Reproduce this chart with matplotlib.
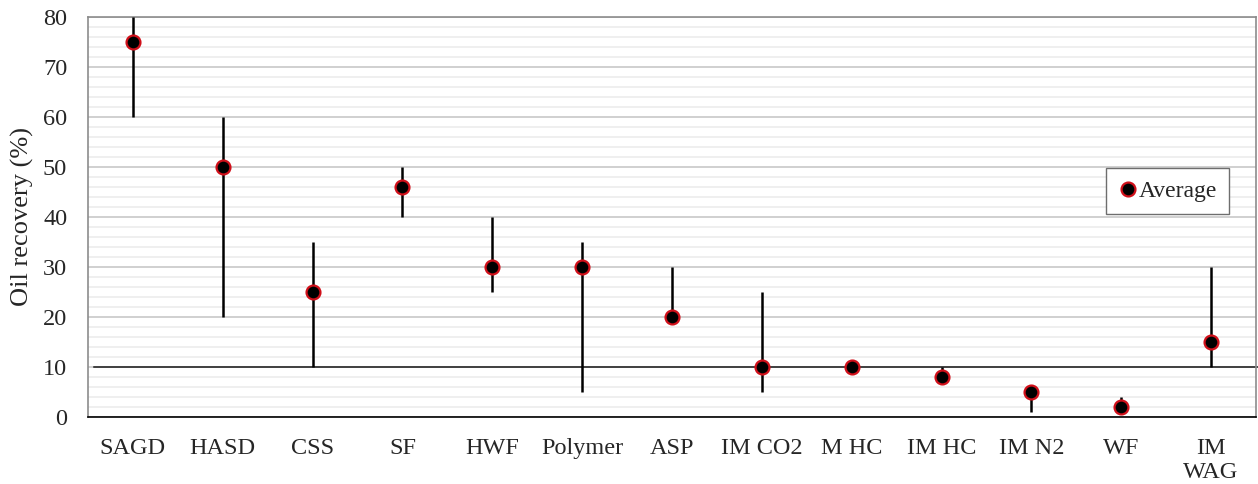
import matplotlib
matplotlib.use("Agg")
import matplotlib.pyplot as plt
from matplotlib.ticker import MultipleLocator

categories = ["SAGD", "HASD", "CSS", "SF", "HWF", "Polymer", "ASP", "IM CO2",
              "M HC", "IM HC", "IM N2", "WF", "IM\nWAG"]
average = [75, 50, 25, 46, 30, 30, 20, 10, 10, 8, 5, 2, 15]
low = [60, 20, 10, 40, 25, 5, 20, 5, 10, 8, 1, 2, 10]
high = [80, 60, 35, 50, 40, 35, 30, 25, 10, 10, 5, 4, 30]
threshold = 10

plt.rcParams['font.family'] = ['Liberation Serif', 'DejaVu Serif']
text_color = '#262626'

fig = plt.figure(figsize=(12.58, 4.84), dpi=100)
ax = fig.add_axes([88/1258, 67/484, 1168/1258, 400/484])

x = list(range(len(categories)))

ax.yaxis.set_major_locator(MultipleLocator(10))
ax.yaxis.set_minor_locator(MultipleLocator(2))
ax.grid(axis='y', which='minor', color='#ececec', linewidth=1.2, zorder=0)
ax.grid(axis='y', which='major', color='#d0d0d0', linewidth=1.4, zorder=0)

ax.axhline(threshold, xmin=0.005, xmax=1.002, color='#1a1a1a', linewidth=1.1, zorder=2, clip_on=False)

ax.vlines(x, low, high, color='black', linewidth=1.8, zorder=3)
ax.plot(x, average, linestyle='none', marker='o', markersize=10,
        markerfacecolor='black', markeredgecolor='#d0101a', markeredgewidth=1.6,
        zorder=4, label='Average', clip_on=False)

ax.set_xlim(-0.5, len(categories) - 0.5)
ax.set_ylim(0, 80)
ax.set_xticks(x)
ax.set_xticklabels(categories, fontsize=17.5, color=text_color, linespacing=1.2)
ax.tick_params(axis='x', length=0, pad=15)
ax.tick_params(axis='y', which='both', length=0, pad=15, labelsize=17.5, labelcolor=text_color)
ax.set_ylabel("Oil recovery (%)", fontsize=19, color=text_color, va='center')
ax.yaxis.set_label_coords(-0.0565, 0.5)

for side in ['top', 'right', 'left']:
    ax.spines[side].set_color('#8c8c8c')
    ax.spines[side].set_linewidth(1.2)
ax.spines['bottom'].set_color('black')
ax.spines['bottom'].set_linewidth(1.2)

leg = ax.legend(loc='center', bbox_to_anchor=(0.924, 0.565), fontsize=17,
                handletextpad=0.0, handlelength=0.9, borderpad=0.5,
                borderaxespad=0.0, fancybox=False, framealpha=1, edgecolor='#6e6e6e')
for t in leg.get_texts():
    t.set_color(text_color)
leg.get_frame().set_linewidth(1.0)

fig.savefig("out.png", dpi=100)
